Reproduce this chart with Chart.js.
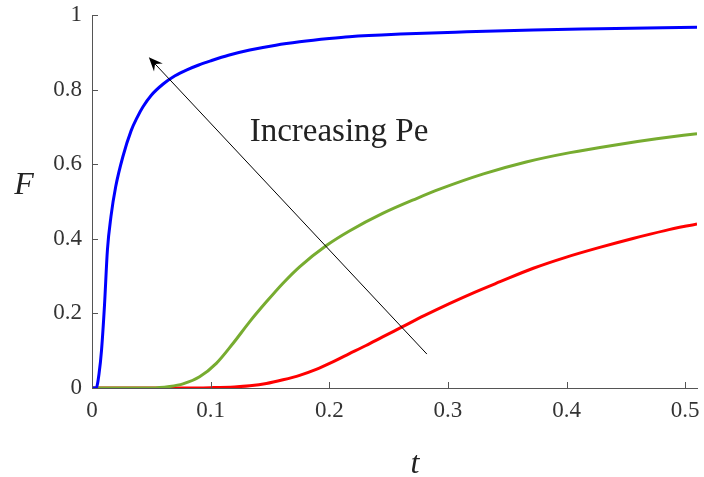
<!DOCTYPE html>
<html>
<head>
<meta charset="utf-8">
<script src="https://cdn.jsdelivr.net/npm/chart.js@4"></script>
<style>
    html, body { margin: 0; padding: 0; background: #ffffff; }
    #wrap { width: 704px; height: 477px; }
</style>
</head>
<body>
<div id="wrap"><canvas id="fChart" width="704" height="477"></canvas></div>
<script>
// valores (t, F) para cada curva
const blueT = [0, 0.0035, 0.006, 0.008, 0.0105, 0.013, 0.016, 0.02, 0.026, 0.033, 0.038, 0.043, 0.05, 0.06, 0.07, 0.08, 0.09, 0.1, 0.115, 0.133, 0.155, 0.175, 0.2, 0.217, 0.26, 0.316, 0.372, 0.428, 0.51];
const blueF = [0, 0, 0.04, 0.1, 0.22, 0.37, 0.46, 0.54, 0.62, 0.69, 0.725, 0.754, 0.785, 0.815, 0.837, 0.853, 0.866, 0.877, 0.892, 0.906, 0.919, 0.928, 0.937, 0.942, 0.949, 0.955, 0.96, 0.963, 0.967];

const greenT = [0, 0.05, 0.0654, 0.0767, 0.0907, 0.1048, 0.119, 0.133, 0.147, 0.161, 0.175, 0.1976, 0.217, 0.245, 0.2736, 0.293, 0.33, 0.366, 0.403, 0.44, 0.476, 0.51];
const greenF = [0, 0, 0.004, 0.011, 0.03, 0.066, 0.12, 0.178, 0.231, 0.281, 0.325, 0.382, 0.421, 0.468, 0.508, 0.533, 0.574, 0.606, 0.631, 0.651, 0.668, 0.682];

const redT = [0, 0.08, 0.1, 0.12, 0.133, 0.147, 0.161, 0.175, 0.189, 0.203, 0.217, 0.231, 0.245, 0.261, 0.28, 0.3017, 0.322, 0.344, 0.372, 0.4, 0.428, 0.456, 0.483, 0.51];
const redF = [0, 0, 0.001, 0.003, 0.006, 0.012, 0.022, 0.034, 0.05, 0.07, 0.092, 0.114, 0.137, 0.163, 0.194, 0.227, 0.256, 0.285, 0.321, 0.351, 0.377, 0.401, 0.422, 0.44];

const xTicks = [0, 0.1, 0.2, 0.3, 0.4, 0.5];
const yTicks = [0, 0.2, 0.4, 0.6, 0.8, 1];

// seta "Increasing Pe" (em coordenadas dos dados)
const arrowFrom = [0.2823, 0.091];
const arrowTo = [0.0479, 0.8866];
const noteAt = [0.1329, 0.661];
const noteText = "Increasing Pe";

const serif = "'Liberation Serif', 'DejaVu Serif', serif";

function toPoints(ts, fs) {
    return ts.map((t, i) => ({ x: t, y: fs[i] }));
}

document.addEventListener("DOMContentLoaded", function () {

    // desenha tracinhos para dentro, rótulos F e t, e a seta
    const extras = {
        id: "extras",
        afterDraw(chart) {
            const ctx = chart.ctx;
            const xs = chart.scales.x;
            const ys = chart.scales.y;
            const area = chart.chartArea;

            ctx.save();
            ctx.strokeStyle = "#555";
            ctx.lineWidth = 1;
            ctx.beginPath();
            xs.ticks.forEach(tk => {
                const px = Math.round(xs.getPixelForValue(tk.value)) + 0.5;
                ctx.moveTo(px, area.bottom);
                ctx.lineTo(px, area.bottom - 6);
            });
            ys.ticks.forEach(tk => {
                const py = Math.round(ys.getPixelForValue(tk.value)) + 0.5;
                ctx.moveTo(area.left, py);
                ctx.lineTo(area.left + 6, py);
            });
            ctx.stroke();

            // rótulos dos eixos
            ctx.fillStyle = "#222";
            ctx.font = "italic 32px " + serif;
            ctx.textAlign = "center";
            ctx.textBaseline = "alphabetic";
            ctx.fillText("F", 24, 194);
            ctx.fillText("t", 415, 473);

            // seta
            const x0 = xs.getPixelForValue(arrowFrom[0]);
            const y0 = ys.getPixelForValue(arrowFrom[1]);
            const x1 = xs.getPixelForValue(arrowTo[0]);
            const y1 = ys.getPixelForValue(arrowTo[1]);
            const ang = Math.atan2(y1 - y0, x1 - x0);
            const len = 14, half = 6;
            ctx.strokeStyle = "#000";
            ctx.lineWidth = 1;
            ctx.beginPath();
            ctx.moveTo(x0, y0);
            ctx.lineTo(x1 - Math.cos(ang) * 8, y1 - Math.sin(ang) * 8);
            ctx.stroke();
            ctx.fillStyle = "#000";
            ctx.beginPath();
            ctx.moveTo(x1, y1);
            ctx.lineTo(x1 - Math.cos(ang) * len + Math.sin(ang) * half, y1 - Math.sin(ang) * len - Math.cos(ang) * half);
            ctx.lineTo(x1 - Math.cos(ang) * len * 0.65, y1 - Math.sin(ang) * len * 0.65);
            ctx.lineTo(x1 - Math.cos(ang) * len - Math.sin(ang) * half, y1 - Math.sin(ang) * len + Math.cos(ang) * half);
            ctx.closePath();
            ctx.fill();

            // texto da anotação
            ctx.fillStyle = "#222";
            ctx.font = "33px " + serif;
            ctx.textAlign = "left";
            ctx.fillText(noteText, xs.getPixelForValue(noteAt[0]), ys.getPixelForValue(noteAt[1]));
            ctx.restore();
        }
    };

    const ctx = document.getElementById("fChart").getContext("2d");
    const fChart = new Chart(ctx, {
        type: "line",
        data: {
            datasets: [
                {
                    label: "Pe alto",
                    data: toPoints(blueT, blueF),
                    borderColor: "#0000ff",
                    borderWidth: 3,
                    pointRadius: 0,
                    cubicInterpolationMode: "monotone",
                },
                {
                    label: "Pe médio",
                    data: toPoints(greenT, greenF),
                    borderColor: "#77ac30",
                    borderWidth: 3,
                    pointRadius: 0,
                    cubicInterpolationMode: "monotone",
                },
                {
                    label: "Pe baixo",
                    data: toPoints(redT, redF),
                    borderColor: "#ff0000",
                    borderWidth: 3,
                    pointRadius: 0,
                    cubicInterpolationMode: "monotone",
                },
            ],
        },
        options: {
            responsive: false,
            animation: false,
            layout: { padding: { top: 15, right: 7, left: 0, bottom: 0 } },
            plugins: {
                legend: { display: false },
                tooltip: { enabled: false },
            },
            scales: {
                x: {
                    type: "linear",
                    min: 0,
                    max: 0.51,
                    afterFit: (s) => { s.height = 89; s.paddingLeft = 0; s.paddingRight = 0; },
                    afterBuildTicks: (s) => { s.ticks = xTicks.map(v => ({ value: v })); },
                    grid: { drawOnChartArea: false, drawTicks: false },
                    border: { display: true, color: "#555", width: 1 },
                    ticks: {
                        padding: 9,
                        color: "#333",
                        font: { family: serif, size: 23 },
                        callback: (v) => String(Math.round(v * 10) / 10),
                    },
                },
                y: {
                    min: 0,
                    max: 1,
                    afterFit: (s) => { s.width = 92; s.paddingTop = 0; s.paddingBottom = 0; },
                    afterBuildTicks: (s) => { s.ticks = yTicks.map(v => ({ value: v })); },
                    grid: { drawOnChartArea: false, drawTicks: false },
                    border: { display: true, color: "#555", width: 1 },
                    ticks: {
                        padding: 10,
                        color: "#333",
                        font: { family: serif, size: 23 },
                        callback: (v) => String(Math.round(v * 10) / 10),
                    },
                },
            },
        },
        plugins: [extras],
    });
});
</script>
</body>
</html>
